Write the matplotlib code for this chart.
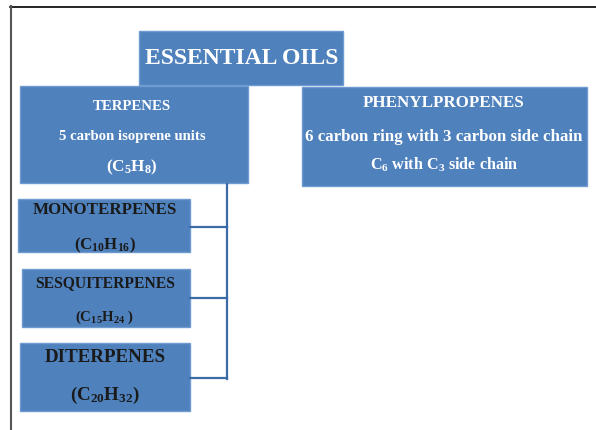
import matplotlib
matplotlib.use("Agg")
import matplotlib.pyplot as plt
from matplotlib.patches import Rectangle

plt.rcParams['font.family'] = 'Liberation Serif'
plt.rcParams['font.weight'] = 'bold'
plt.rcParams['mathtext.default'] = 'regular'

# diagram text
title = "ESSENTIAL OILS"
terpene_lines = ["TERPENES", "5 carbon isoprene units", "(C$_5$H$_8$)"]
phenyl_lines = ["PHENYLPROPENES", "6 carbon ring with 3 carbon side chain",
                "C$_6$ with C$_3$ side chain"]
sub_names = ["MONOTERPENES", "SESQUITERPENES", "DITERPENES"]
sub_formulas = ["(C$_{10}$H$_{16}$)", "(C$_{15}$H$_{24}$ )", "(C$_{20}$H$_{32}$)"]

blue = "#4f81bd"
edge = "#6f9bd0"
line_blue = "#3b6aa6"

W, H = 596, 431
fig = plt.figure(figsize=(W / 100, H / 100), dpi=100)
ax = fig.add_axes([0, 0, 1, 1])
ax.set_xlim(0, W)
ax.set_ylim(H, 0)
ax.axis('off')

# page frame (top and left only)
ax.plot([10, W], [7.5, 7.5], color='black', lw=1.2)
ax.plot([10.5, 10.5], [7, H], color='#555555', lw=1.5)


def box(x0, y0, x1, y1):
    ax.add_patch(Rectangle((x0, y0), x1 - x0, y1 - y0, facecolor=blue,
                           edgecolor=edge, lw=1))


texts = []


def label(s, x, y, width, color):
    t = ax.text(x, y, s, ha='center', va='center', color=color,
                fontsize=20, fontweight='bold')
    texts.append((t, width))


# boxes: title, terpenes, phenylpropenes, sub classes
box(139, 32, 343, 86)
box(20, 87, 248, 184)
box(302, 88, 587, 187)
sub_boxes = [(18, 200, 190, 253), (22, 270, 190, 328), (20, 344, 190, 412)]
for b in sub_boxes:
    box(*b)

# connectors
ax.plot([227, 227], [185, 380], color=line_blue, lw=1.6)
for yc in [228, 299, 379]:
    ax.plot([190, 227], [yc, yc], color=line_blue, lw=1.6)

label(title, 241.5, 59, 193, 'white')

for s, y, w in zip(terpene_lines, [107, 137, 167], [78, 147, 52]):
    label(s, 132, y, w, 'white')
for s, y, w in zip(phenyl_lines, [103, 137, 165], [162, 277, 148]):
    label(s, 444, y, w, 'white')

name_y = [210, 283, 358]
form_y = [245, 317, 395]
name_w = [144, 140, 122]
form_w = [62, 59, 70]
for i in range(3):
    label(sub_names[i], 105, name_y[i], name_w[i], '#1a1a1a')
    label(sub_formulas[i], 105, form_y[i], form_w[i], '#1a1a1a')

# fit each text line to the width it has in the reference
fig.canvas.draw()
r = fig.canvas.get_renderer()
for _ in range(2):
    for t, w in texts:
        bb = t.get_window_extent(r)
        t.set_fontsize(t.get_fontsize() * w / bb.width)
    fig.canvas.draw()

fig.savefig("out.png", dpi=100)
